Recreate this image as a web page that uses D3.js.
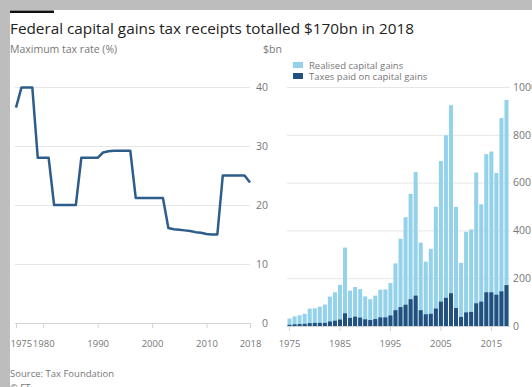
<!DOCTYPE html>
<html>
<head>
<meta charset="utf-8">
<script src="https://cdn.jsdelivr.net/npm/d3@7"></script>
<style>
  html, body { margin: 0; padding: 0; background: #bdbdbd; }
  svg { display: block; }
  text { font-family: "Open Sans", "Noto Sans", sans-serif; }
</style>
</head>
<body>
<svg id="chart" width="532" height="387"></svg>
<script>
"use strict";

// left panel: maximum capital gains tax rate (%)
var rateYears = [1975, 1976, 1977, 1978, 1979, 1980, 1981, 1982, 1983, 1984, 1985, 1986, 1987, 1988, 1989,
  1990, 1991, 1992, 1993, 1994, 1995, 1996, 1997, 1998, 1999, 2000, 2001, 2002, 2003, 2004,
  2005, 2006, 2007, 2008, 2009, 2010, 2011, 2012, 2013, 2014, 2015, 2016, 2017, 2018];
var maxTaxRate = [36.5, 39.9, 39.9, 39.9, 28, 28, 28, 20, 20, 20, 20, 20, 28, 28, 28,
  28, 28.9, 29.1, 29.2, 29.2, 29.2, 29.2, 21.2, 21.2, 21.2, 21.2, 21.2, 21.2, 16.1, 15.9,
  15.8, 15.7, 15.6, 15.4, 15.3, 15.1, 15.0, 15.0, 25, 25, 25, 25, 25, 23.8];
var rateTicks = [0, 10, 20, 30, 40];
var rateYearTicks = [1975, 1980, 1990, 2000, 2010, 2018];

// right panel: $bn
var gainYears = rateYears.slice();
var realisedGains = [31, 40, 45, 51, 73, 74, 81, 90, 123, 141, 172, 328, 148, 163, 154,
  124, 112, 127, 152, 153, 180, 262, 365, 455, 553, 644, 349, 269, 323, 499,
  690, 798, 924, 498, 264, 394, 404, 642, 509, 719, 730, 640, 870, 946];
var taxesPaid = [5, 7, 8, 9, 12, 13, 13, 13, 19, 22, 27, 53, 34, 39, 35,
  28, 25, 29, 36, 36, 44, 66, 79, 89, 112, 127, 66, 49, 51, 73,
  102, 118, 137, 75, 38, 57, 59, 95, 102, 141, 141, 131, 145, 171];
var gainTicks = [0, 200, 400, 600, 800, 1000];
var gainYearTicks = [1975, 1985, 1995, 2005, 2015];

var LIGHT = "#93d2ea";
var DARK = "#22507f";
var LINE = "#2e5d8b";
var GRID = "#e6e6e6";
var TEXT = "#777";

var svg = d3.select("#chart");

svg.append("rect")
  .attr("x", 10).attr("y", 10)
  .attr("width", 522).attr("height", 377)
  .attr("fill", "#fff");

svg.append("rect")
  .attr("x", 10).attr("y", 10.5)
  .attr("width", 44).attr("height", 2.5)
  .attr("fill", "#111");

svg.append("text")
  .attr("x", 10).attr("y", 34)
  .attr("font-size", 15.3)
  .attr("fill", "#222")
  .text("Federal capital gains tax receipts totalled $170bn in 2018");

svg.append("text")
  .attr("x", 10).attr("y", 53)
  .attr("font-size", 10.5)
  .attr("fill", TEXT)
  .text("Maximum tax rate (%)");

svg.append("text")
  .attr("x", 263).attr("y", 53)
  .attr("font-size", 10.5)
  .attr("fill", TEXT)
  .text("$bn");

svg.append("text")
  .attr("x", 10).attr("y", 377)
  .attr("font-size", 9.5)
  .attr("fill", TEXT)
  .text("Source: Tax Foundation");

svg.append("text")
  .attr("x", 10).attr("y", 391)
  .attr("font-size", 9.5)
  .attr("fill", TEXT)
  .text("© FT");

// ---- left chart
var xRate = d3.scaleLinear().domain([1975, 2018]).range([16, 250]);
var yRate = d3.scaleLinear().domain([0, 40]).range([323, 87]);

var rateYAxis = svg.append("g")
  .attr("transform", "translate(250,0)")
  .call(d3.axisRight(yRate).tickValues(rateTicks).tickSize(-235).tickPadding(0));
rateYAxis.select(".domain").remove();
rateYAxis.selectAll("line")
  .attr("stroke", function (d) { return d === 0 ? "#d4d4d4" : GRID; });
rateYAxis.selectAll("text")
  .attr("x", 18)
  .attr("text-anchor", "end")
  .attr("font-size", 10.5)
  .attr("font-family", null)
  .attr("fill", TEXT);

var rateXAxis = svg.append("g")
  .attr("transform", "translate(0,323)")
  .call(d3.axisBottom(xRate).tickValues(rateYearTicks).tickSize(5).tickPadding(12).tickFormat(d3.format("d")));
rateXAxis.select(".domain").remove();
rateXAxis.selectAll("line").attr("stroke", "#d4d4d4");
rateXAxis.selectAll("text")
  .attr("font-size", 9.5)
  .attr("font-family", null)
  .attr("fill", TEXT)
  // first label sits flush with the panel edge
  .attr("text-anchor", function (d) { return d === 1975 ? "start" : "middle"; })
  .attr("dx", function (d) { return d === 1975 ? -6 : 0; });

var rateLine = d3.line()
  .x(function (d, i) { return xRate(rateYears[i]); })
  .y(function (d) { return yRate(d); });

svg.append("path")
  .datum(maxTaxRate)
  .attr("d", rateLine)
  .attr("fill", "none")
  .attr("stroke", LINE)
  .attr("stroke-width", 2.5)
  .attr("stroke-linejoin", "round");

// ---- right chart
var xGain = d3.scaleBand().domain(gainYears).range([287, 509]).paddingInner(0.2).paddingOuter(0.1);
var yGain = d3.scaleLinear().domain([0, 1000]).range([326, 87]);

var gainYAxis = svg.append("g")
  .attr("transform", "translate(510,0)")
  .call(d3.axisRight(yGain).tickValues(gainTicks).tickSize(-223).tickPadding(3).tickFormat(d3.format("d")));
gainYAxis.select(".domain").remove();
gainYAxis.selectAll("line")
  .attr("stroke", function (d) { return d === 0 ? "#d4d4d4" : GRID; });
gainYAxis.selectAll("text")
  .attr("font-size", 10.5)
  .attr("font-family", null)
  .attr("fill", TEXT);

svg.append("g")
  .selectAll("rect")
  .data(realisedGains)
  .enter()
  .append("rect")
  .attr("x", function (d, i) { return xGain(gainYears[i]); })
  .attr("y", function (d) { return yGain(d); })
  .attr("width", xGain.bandwidth())
  .attr("height", function (d) { return yGain(0) - yGain(d); })
  .attr("fill", LIGHT);

svg.append("g")
  .selectAll("rect")
  .data(taxesPaid)
  .enter()
  .append("rect")
  .attr("x", function (d, i) { return xGain(gainYears[i]); })
  .attr("y", function (d) { return yGain(d); })
  .attr("width", xGain.bandwidth())
  .attr("height", function (d) { return yGain(0) - yGain(d); })
  .attr("fill", DARK);

var gainXAxis = svg.append("g")
  .attr("transform", "translate(0,326)")
  .call(d3.axisBottom(xGain).tickValues(gainYearTicks).tickSize(5).tickPadding(9));
gainXAxis.select(".domain").remove();
gainXAxis.selectAll("line").attr("stroke", "#d4d4d4");
gainXAxis.selectAll("text")
  .attr("font-size", 9.5)
  .attr("font-family", null)
  .attr("fill", TEXT);

// legend
var legendItems = [
  { label: "Realised capital gains", color: LIGHT },
  { label: "Taxes paid on capital gains", color: DARK }
];
var legend = svg.append("g").attr("transform", "translate(293,62)");
legend.selectAll("rect")
  .data(legendItems)
  .enter()
  .append("rect")
  .attr("x", 0)
  .attr("y", function (d, i) { return i * 11; })
  .attr("width", 10)
  .attr("height", 6)
  .attr("fill", function (d) { return d.color; });
legend.selectAll("text")
  .data(legendItems)
  .enter()
  .append("text")
  .attr("x", 16)
  .attr("y", function (d, i) { return 6.5 + i * 11; })
  .attr("font-size", 9.5)
  .attr("fill", TEXT)
  .text(function (d) { return d.label; });
</script>
</body>
</html>
